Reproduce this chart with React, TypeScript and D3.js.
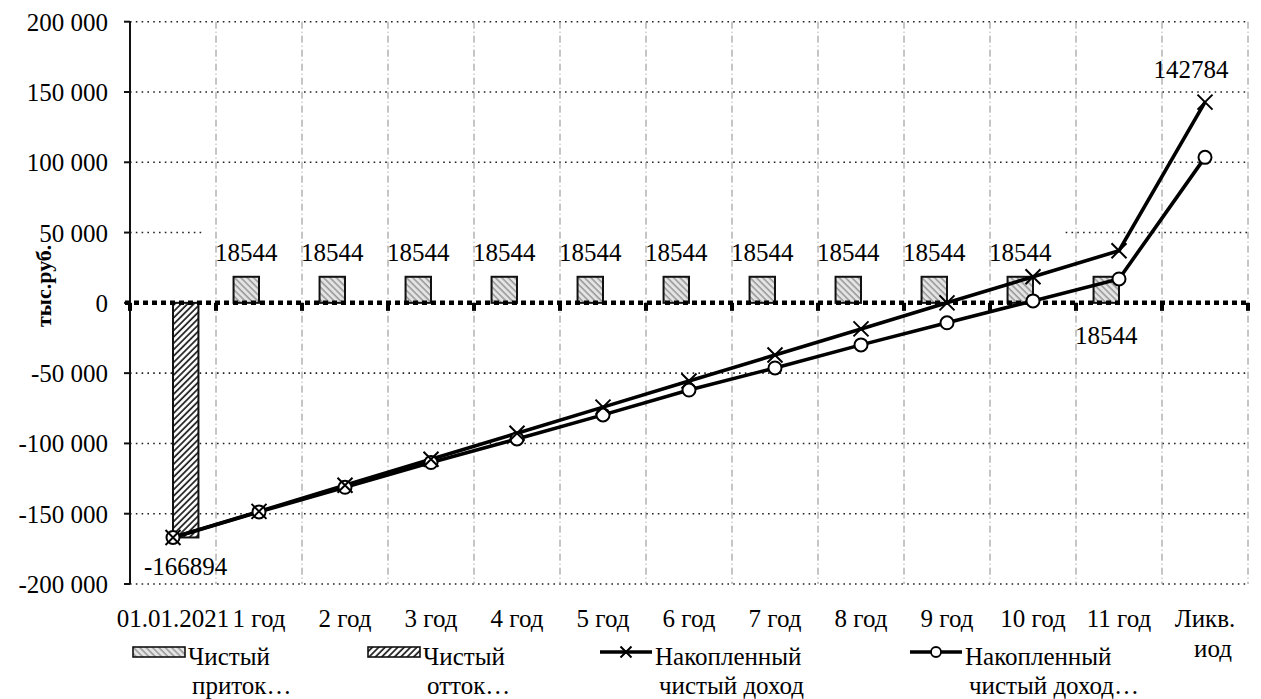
import { useEffect, useRef } from 'react';
import * as d3 from 'd3';

const categories = [
  '01.01.2021', '1 год', '2 год', '3 год', '4 год', '5 год', '6 год',
  '7 год', '8 год', '9 год', '10 год', '11 год', 'Ликв.\nиод',
];
const netInflow: (number | null)[] = [
  null, 18544, 18544, 18544, 18544, 18544, 18544, 18544, 18544, 18544, 18544, 18544, null,
];
const netOutflow: (number | null)[] = [
  -166894, null, null, null, null, null, null, null, null, null, null, null, null,
];
const cumulativeIncome = [
  -166894, -148350, -129806, -111262, -92718, -74174, -55630, -37086, -18542, 2, 18546, 37090, 142784,
];
const discountedIncome = [
  -166894, -148700, -131200, -113600, -96800, -79700, -62000, -46300, -29900, -14200, 1400, 17000, 103500,
];
const yTicks = [200000, 150000, 100000, 50000, 0, -50000, -100000, -150000, -200000];
const legendLabels = [
  ['Чистый', 'приток…'],
  ['Чистый', 'отток…'],
  ['Накопленный', 'чистый доход'],
  ['Накопленный', 'чистый доход…'],
];
// the 11th year label sits under the axis in the original
const inflowLabelBelow = [11];

const FONT = 'Liberation Serif, Times New Roman, Liberation Sans, serif';
const FS = 25;

export default function App() {
  const svgRef = useRef<SVGSVGElement>(null);

  useEffect(() => {
    if (!svgRef.current) return;
    const svg = d3.select(svgRef.current);
    svg.selectAll('*').remove();

    const left = 130, right = 1248, top = 21.7, bottom = 584;

    const x = d3.scaleBand<string>().domain(categories).range([left, right]).padding(0);
    const bw = x.bandwidth();
    const sub = d3.scaleBand<string>().domain(['in', 'out']).range([0, bw])
      .paddingInner(0).paddingOuter(0.69);
    const y = d3.scaleLinear().domain([-200000, 200000]).range([bottom, top]);
    const cx = (i: number) => (x(categories[i]) as number) + bw / 2;
    const fmt = (v: number) => (v < 0 ? '-' : '') + d3.format(',')(Math.abs(v)).replace(/,/g, ' ');

    // Patterns
    const defs = svg.append('defs');
    const pIn = defs.append('pattern')
      .attr('id', 'hatchIn').attr('patternUnits', 'userSpaceOnUse')
      .attr('width', 4.5).attr('height', 4.5).attr('patternTransform', 'rotate(-45)');
    pIn.append('rect').attr('width', 4.5).attr('height', 4.5).attr('fill', '#e4e4e4');
    pIn.append('line').attr('x1', 1).attr('x2', 1).attr('y1', 0).attr('y2', 4.5)
      .attr('stroke', '#8a8a8a').attr('stroke-width', 1.3);

    const pOut = defs.append('pattern')
      .attr('id', 'hatchOut').attr('patternUnits', 'userSpaceOnUse')
      .attr('width', 4.5).attr('height', 4.5).attr('patternTransform', 'rotate(45)');
    pOut.append('rect').attr('width', 4.5).attr('height', 4.5).attr('fill', '#fff');
    pOut.append('line').attr('x1', 1).attr('x2', 1).attr('y1', 0).attr('y2', 4.5)
      .attr('stroke', '#1a1a1a').attr('stroke-width', 1.7);

    // Horizontal gridlines
    const grid = svg.append('g');
    yTicks.filter(t => t !== 0).forEach(t => {
      const segs: [number, number][] = t === 50000
        ? [[left, cx(0) + bw * 0.35], [(x(categories[10]) as number) + bw * 0.88, right]]
        : [[left, right]];
      segs.forEach(([a, b]) => {
        grid.append('line')
          .attr('x1', a).attr('x2', b).attr('y1', y(t)).attr('y2', y(t))
          .attr('stroke', '#222').attr('stroke-width', 1.6).attr('stroke-dasharray', '1.6,4.2');
      });
    });

    // Vertical gridlines at category boundaries
    categories.forEach(c => {
      const gx = (x(c) as number) + bw;
      grid.append('line')
        .attr('x1', gx).attr('x2', gx).attr('y1', top).attr('y2', bottom)
        .attr('stroke', '#8c8c8c').attr('stroke-width', 1).attr('stroke-dasharray', '7,3,1,3');
    });

    // Y axis
    svg.append('line')
      .attr('x1', left).attr('x2', left).attr('y1', top).attr('y2', bottom)
      .attr('stroke', '#111').attr('stroke-width', 2);
    yTicks.forEach(t => {
      svg.append('line')
        .attr('x1', left - 6).attr('x2', left).attr('y1', y(t)).attr('y2', y(t))
        .attr('stroke', '#111').attr('stroke-width', 2);
      svg.append('text')
        .attr('x', 108).attr('y', y(t) + 9)
        .attr('text-anchor', 'end')
        .style('font-family', FONT).attr('font-size', FS)
        .text(fmt(t));
    });

    svg.append('text')
      .attr('transform', `translate(43, ${(y(50000) + y(-50000)) / 2 - 17}) rotate(-90)`)
      .attr('text-anchor', 'middle').attr('dominant-baseline', 'central')
      .style('font-family', FONT).attr('font-size', 22).attr('font-weight', 'bold')
      .text('тыс.руб.');

    // Bars
    const bars = svg.append('g');
    netInflow.forEach((v, i) => {
      if (v == null) return;
      const bx = (x(categories[i]) as number) + (sub('in') as number);
      bars.append('rect')
        .attr('x', bx).attr('width', sub.bandwidth())
        .attr('y', y(v)).attr('height', y(0) - y(v))
        .attr('fill', 'url(#hatchIn)').attr('stroke', '#111').attr('stroke-width', 2);
    });
    netOutflow.forEach((v, i) => {
      if (v == null) return;
      const bx = (x(categories[i]) as number) + (sub('out') as number);
      bars.append('rect')
        .attr('x', bx).attr('width', sub.bandwidth())
        .attr('y', y(0)).attr('height', y(v) - y(0))
        .attr('fill', 'url(#hatchOut)').attr('stroke', '#111').attr('stroke-width', 2);
    });

    // Zero axis (thick square dots) with tick marks
    svg.append('line')
      .attr('x1', left - 5).attr('x2', right + 2).attr('y1', y(0)).attr('y2', y(0))
      .attr('stroke', '#000').attr('stroke-width', 4.5).attr('stroke-dasharray', '5,4');
    [left, ...categories.map(c => (x(c) as number) + bw)].forEach(tx => {
      svg.append('line')
        .attr('x1', tx).attr('x2', tx).attr('y1', y(0)).attr('y2', y(0) + 8)
        .attr('stroke', '#000').attr('stroke-width', 4);
    });

    // Lines
    const line = d3.line<number>().x((_, i) => cx(i)).y(d => y(d));
    svg.append('path').datum(discountedIncome).attr('d', line)
      .attr('fill', 'none').attr('stroke', '#000').attr('stroke-width', 3.6);
    svg.append('path').datum(cumulativeIncome).attr('d', line)
      .attr('fill', 'none').attr('stroke', '#000').attr('stroke-width', 3.6);

    discountedIncome.forEach((v, i) => {
      svg.append('circle').attr('cx', cx(i)).attr('cy', y(v)).attr('r', 6.5)
        .attr('fill', '#fff').attr('stroke', '#000').attr('stroke-width', 2);
    });
    const cross = (g: d3.Selection<any, any, any, any>, px: number, py: number, s: number) => {
      g.append('path')
        .attr('d', `M${px - s},${py - s}L${px + s},${py + s}M${px - s},${py + s}L${px + s},${py - s}`)
        .attr('stroke', '#000').attr('stroke-width', 2).attr('fill', 'none');
    };
    cumulativeIncome.forEach((v, i) => cross(svg, cx(i), y(v), 7.5));

    // Data labels
    const labels = svg.append('g').style('font-family', FONT).attr('font-size', FS)
      .attr('text-anchor', 'middle');
    netInflow.forEach((v, i) => {
      if (v == null) return;
      const lx = (x(categories[i]) as number) + (sub('in') as number) + sub.bandwidth() / 2;
      const below = inflowLabelBelow.includes(i);
      labels.append('text')
        .attr('x', lx).attr('y', below ? y(0) + 41 : y(v) - 16)
        .text(String(v));
    });
    netOutflow.forEach((v, i) => {
      if (v == null) return;
      const lx = (x(categories[i]) as number) + (sub('out') as number) + sub.bandwidth() / 2;
      labels.append('text').attr('x', lx).attr('y', y(v) + 38).text(String(v));
    });
    const last = cumulativeIncome.length - 1;
    labels.append('text')
      .attr('x', cx(last) - 14).attr('y', y(cumulativeIncome[last]) - 24)
      .text(String(cumulativeIncome[last]));

    // X axis labels
    const xl = svg.append('g').style('font-family', FONT).attr('font-size', FS)
      .attr('text-anchor', 'middle');
    categories.forEach((c, i) => {
      const parts = c.split('\n');
      parts.forEach((p, k) => {
        xl.append('text')
          .attr('x', cx(i) + (k > 0 ? 8 : 0)).attr('y', 627 + k * 30)
          .text(p);
      });
    });

    // Legend
    const legendX = [133, 368, 600, 910];
    const lg = svg.append('g').style('font-family', FONT).attr('font-size', FS);
    legendX.forEach((lx, i) => {
      if (i < 2) {
        lg.append('rect')
          .attr('x', lx).attr('y', 647).attr('width', 52).attr('height', 10)
          .attr('fill', i === 0 ? 'url(#hatchIn)' : 'url(#hatchOut)')
          .attr('stroke', '#111').attr('stroke-width', 1.6);
      } else {
        lg.append('line')
          .attr('x1', lx).attr('x2', lx + 52).attr('y1', 652).attr('y2', 652)
          .attr('stroke', '#000').attr('stroke-width', 3.6);
        if (i === 2) cross(lg, lx + 26, 652, 5.5);
        else lg.append('circle').attr('cx', lx + 26).attr('cy', 652).attr('r', 5)
          .attr('fill', '#fff').attr('stroke', '#000').attr('stroke-width', 1.8);
      }
      lg.append('text').attr('x', lx + 55).attr('y', 665).text(legendLabels[i][0]);
      lg.append('text').attr('x', lx + 59).attr('y', 694).text(legendLabels[i][1]);
    });
  }, []);

  return (
    <svg
      ref={svgRef}
      width={1261}
      height={699}
      style={{ position: 'fixed', left: 0, top: 0, background: '#fff' }}
    />
  );
}
